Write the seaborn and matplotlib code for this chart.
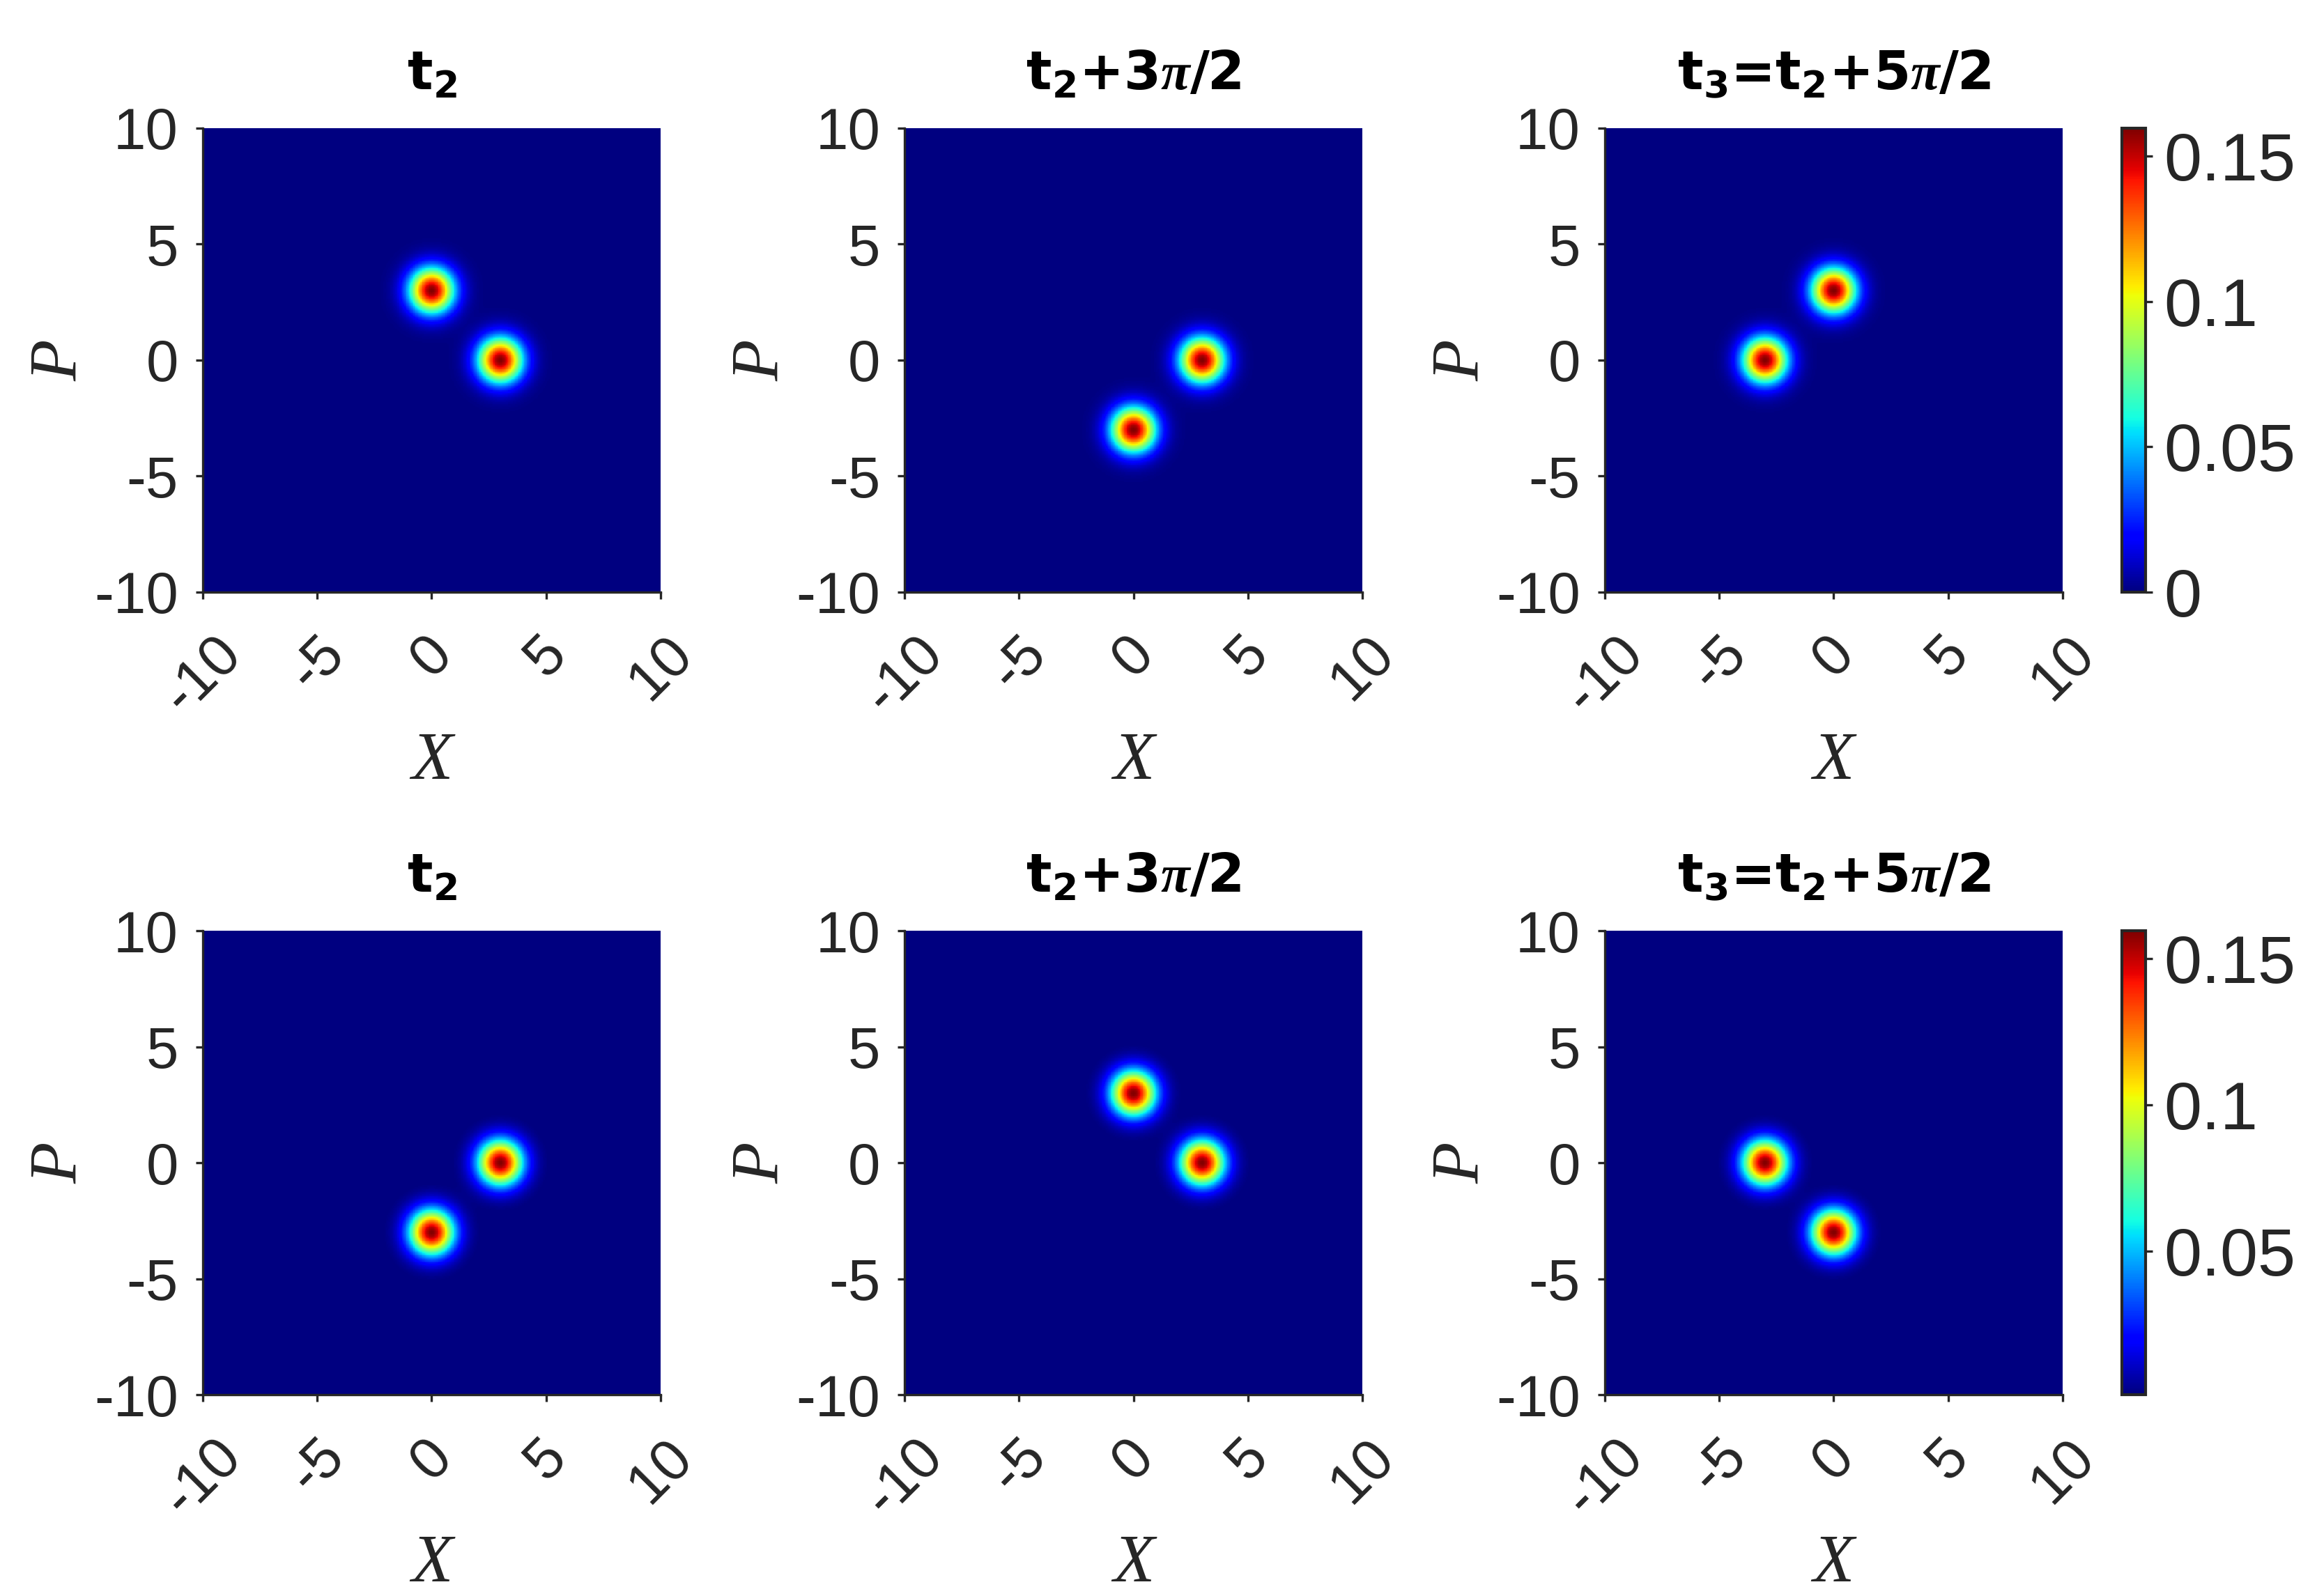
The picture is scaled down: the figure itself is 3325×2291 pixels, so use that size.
import numpy as np
import pandas as pd
import matplotlib.pyplot as plt
import seaborn as sns

# --- data ---
axis_lo, axis_hi = -10, 10
n_cells = 400
peak = 0.159          # height of each blob
blob_sigma = 0.68     # gaussian width of each blob

titles = [r'$\mathbf{t_2}$',
          r'$\mathbf{t_2}$+3$\pi$/2',
          r'$\mathbf{t_3}$=$\mathbf{t_2}$+5$\pi$/2']

# blob centres (X, P) per panel
centers_top = [[(0, 3), (3, 0)],
               [(3, 0), (0, -3)],
               [(0, 3), (-3, 0)]]
centers_bottom = [[(3, 0), (0, -3)],
                  [(0, 3), (3, 0)],
                  [(-3, 0), (0, -3)]]

tick_values = [-10, -5, 0, 5, 10]
tick_labels = ['-10', '-5', '0', '5', '10']
cbar_ticks_top = [0, 0.05, 0.1, 0.15]
cbar_labels_top = ['0', '0.05', '0.1', '0.15']
cbar_ticks_bottom = [0.05, 0.1, 0.15]
cbar_labels_bottom = ['0.05', '0.1', '0.15']
vmin_top, vmax_top = 0.0, 0.1596
vmin_bottom, vmax_bottom = 0.001, 0.1596

# --- style ---
sns.set_theme(style='white')
plt.rcParams['font.family'] = ['Liberation Sans', 'DejaVu Sans']
plt.rcParams['mathtext.fontset'] = 'custom'
plt.rcParams['mathtext.rm'] = 'DejaVu Sans'
plt.rcParams['mathtext.bf'] = 'DejaVu Sans:bold'
plt.rcParams['mathtext.it'] = 'Liberation Serif:italic:bold'
ink = '#262626'

step = (axis_hi - axis_lo) / n_cells
grid = axis_lo + (np.arange(n_cells) + 0.5) * step
X, P = np.meshgrid(grid, grid)


def field(centers):
    q = np.zeros_like(X)
    for x0, p0 in centers:
        q += peak * np.exp(-((X - x0) ** 2 + (P - p0) ** 2) / (2 * blob_sigma ** 2))
    return pd.DataFrame(q, index=grid, columns=grid)


def to_pos(v):
    return (v - axis_lo) / (axis_hi - axis_lo) * n_cells


fig = plt.figure(figsize=(16.625, 11.455), dpi=200)

col_left = [0.0875, 0.3904, 0.6926]
col_w = 0.1976
rows = [(0.629, 0.2907), (0.1261, 0.2907)]
cbar_left, cbar_w = 0.9158, 0.0102

for r, (centers_row, (bot, h)) in enumerate(zip([centers_top, centers_bottom], rows)):
    vmin, vmax = (vmin_top, vmax_top) if r == 0 else (vmin_bottom, vmax_bottom)
    cax = fig.add_axes([cbar_left, bot, cbar_w, h])
    for c in range(3):
        ax = fig.add_axes([col_left[c], bot, col_w, h])
        last = c == 2
        sns.heatmap(field(centers_row[c]), ax=ax, cmap='jet', vmin=vmin, vmax=vmax,
                    cbar=last, cbar_ax=cax if last else None,
                    xticklabels=False, yticklabels=False, rasterized=True)
        ax.invert_yaxis()
        ax.set_aspect('auto')
        ax.set_xticks([to_pos(v) for v in tick_values])
        ax.set_xticklabels(tick_labels, rotation=45, ha='center', fontsize=30, color=ink)
        ax.set_yticks([to_pos(v) for v in tick_values])
        ax.set_yticklabels(tick_labels, rotation=0, fontsize=30, color=ink)
        ax.tick_params(direction='out', length=3.6, width=1.2, color=ink,
                       bottom=True, left=True)
        ax.tick_params(axis='x', pad=14)
        ax.tick_params(axis='y', pad=9)
        for side in ['left', 'bottom']:
            ax.spines[side].set_visible(True)
            ax.spines[side].set_color(ink)
            ax.spines[side].set_linewidth(1.2)
        for side in ['top', 'right']:
            ax.spines[side].set_visible(False)
        ax.set_xlabel('X', fontsize=35, family='Liberation Serif', style='italic',
                      color=ink, labelpad=4)
        ax.set_ylabel('P', fontsize=35, family='Liberation Serif', style='italic',
                      color=ink, labelpad=1.5)
        ax.set_title(titles[c], fontsize=27.5, fontweight='bold', family='DejaVu Sans',
                     color='black', pad=20)
        if last:
            cb = ax.collections[0].colorbar
            ticks = cbar_ticks_top if r == 0 else cbar_ticks_bottom
            labels = cbar_labels_top if r == 0 else cbar_labels_bottom
            cb.set_ticks(ticks)
            cb.set_ticklabels(labels)
            cb.outline.set_visible(True)
            cb.outline.set_edgecolor(ink)
            cb.outline.set_linewidth(1.5)
            cax.tick_params(direction='out', length=3.6, width=1.2, color=ink,
                            labelsize=35, labelcolor=ink, right=True, pad=6)

fig.savefig('out.png', dpi=200)
